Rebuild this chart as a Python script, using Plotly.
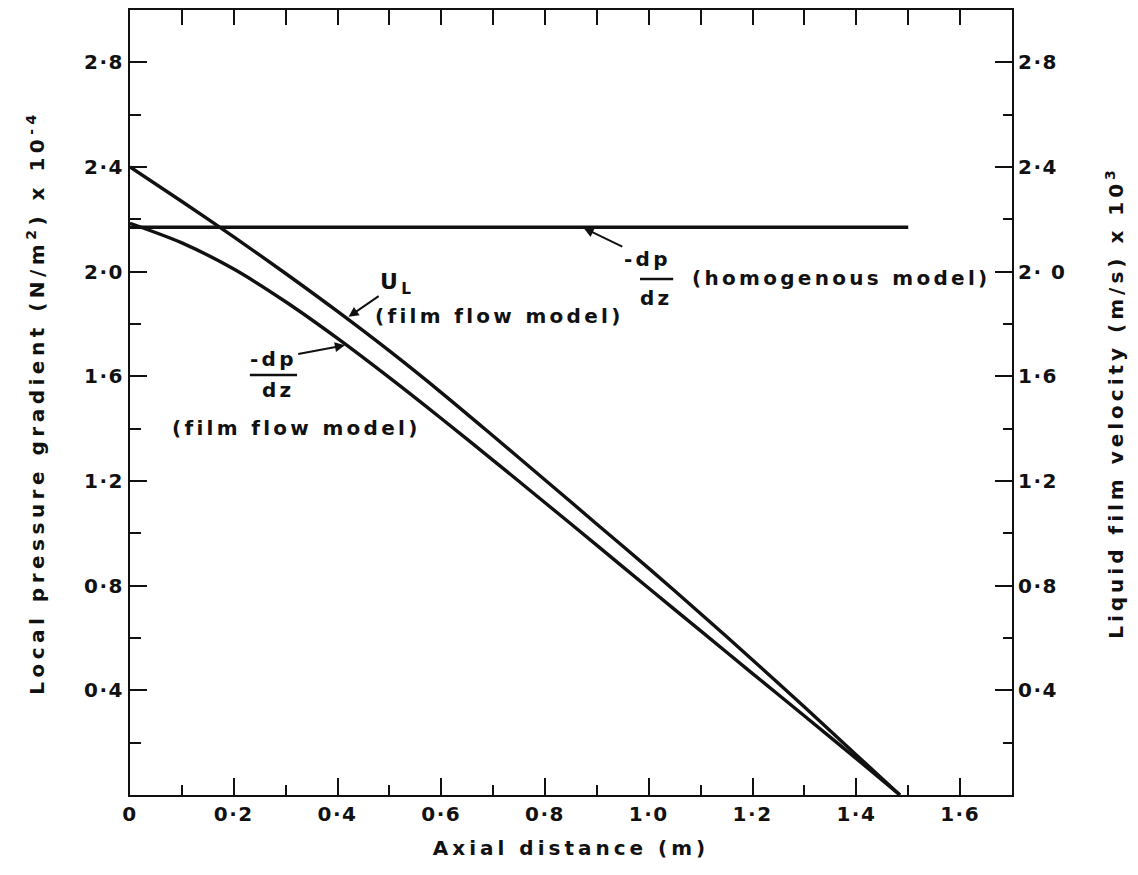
import plotly.graph_objects as go

# Axial distance (m) sampled every 0.1 m
z = [0.0, 0.1, 0.2, 0.3, 0.4, 0.5, 0.6, 0.7, 0.8, 0.9, 1.0, 1.1, 1.2, 1.3, 1.4, 1.484]

# Liquid film velocity U_L (m/s) x 10^3, film flow model
u_l = [2.400, 2.268, 2.133, 1.993, 1.848, 1.697, 1.538, 1.372, 1.204, 1.035, 0.866, 0.693, 0.516, 0.336, 0.153, 0.0]

# Local pressure gradient -dp/dz (N/m^2) x 10^-4, film flow model
dpdz_film = [2.185, 2.110, 2.010, 1.885, 1.745, 1.595, 1.439, 1.279, 1.117, 0.954, 0.790, 0.627, 0.464, 0.302, 0.139, 0.0]

# Local pressure gradient, homogenous model (constant)
z_homo = [0.0, 1.5]
dpdz_homo = [2.17, 2.17]

x_major = [0.0, 0.2, 0.4, 0.6, 0.8, 1.0, 1.2, 1.4, 1.6]
x_major_text = ["0", "0·2", "0·4", "0·6", "0·8", "1·0", "1·2", "1·4", "1·6"]
x_minor = [0.1, 0.3, 0.5, 0.7, 0.9, 1.1, 1.3, 1.5]
x_top = [0.1, 0.2, 0.3, 0.4, 0.5, 0.6, 0.7, 0.8, 0.9, 1.0, 1.1, 1.2, 1.3, 1.4, 1.5, 1.6]

y_major = [0.4, 0.8, 1.2, 1.6, 2.0, 2.4, 2.8]
y_left_text = ["0·4", "0·8", "1·2", "1·6", "2·0", "2·4", "2·8"]
y_right_text = ["0·4", "0·8", "1·2", "1·6", "2· 0", "2·4", "2·8"]
y_minor = [0.2, 0.6, 1.0, 1.4, 1.8, 2.2, 2.6]

FONT = "DejaVu Sans"
INK = "#111111"


def spaced(s, px=3.3):
    return f'<span style="letter-spacing:{px}px">{s}</span>'


fig = go.Figure()
line_style = dict(color=INK, width=3.4)
fig.add_trace(go.Scatter(x=z_homo, y=dpdz_homo, mode="lines", line=line_style,
                         showlegend=False, hoverinfo="skip"))
fig.add_trace(go.Scatter(x=z, y=dpdz_film, mode="lines",
                         line=dict(line_style, shape="spline", smoothing=0.8),
                         showlegend=False, hoverinfo="skip"))
fig.add_trace(go.Scatter(x=z, y=u_l, mode="lines", yaxis="y2",
                         line=dict(line_style, shape="spline", smoothing=0.8),
                         showlegend=False, hoverinfo="skip"))
# carrier for the top axis
fig.add_trace(go.Scatter(x=[None], y=[None], xaxis="x2", showlegend=False, hoverinfo="skip"))

tickfont = dict(family=FONT, size=20, color=INK, weight="bold")
titlefont = dict(family=FONT, size=20, color=INK, weight="bold")

fig.update_layout(
    width=1138, height=875,
    margin=dict(l=130, r=126, t=10, b=80),
    paper_bgcolor="white", plot_bgcolor="white",
    xaxis=dict(
        range=[0, 1.7], showgrid=False, zeroline=False,
        showline=True, linecolor=INK, linewidth=2,
        ticks="inside", ticklen=17, tickwidth=2, tickcolor=INK,
        tickvals=x_major, ticktext=[spaced(t, 1.5) for t in x_major_text], tickfont=tickfont,
        minor=dict(tickvals=x_minor, ticks="inside", ticklen=10, tickwidth=2, tickcolor=INK, showgrid=False),
        title=dict(text=spaced("Axial distance (m)", 4), font=titlefont, standoff=16),
    ),
    xaxis2=dict(
        range=[0, 1.7], overlaying="x", side="top", anchor="y", showgrid=False, zeroline=False,
        showline=True, linecolor=INK, linewidth=2,
        ticks="inside", ticklen=15, tickwidth=2, tickcolor=INK,
        tickvals=x_top, showticklabels=False,
    ),
    yaxis=dict(
        range=[0, 3.0], showgrid=False, zeroline=False,
        showline=True, linecolor=INK, linewidth=2,
        ticks="inside", ticklen=17, tickwidth=2, tickcolor=INK,
        tickvals=y_major, ticktext=[spaced(t, 1.5) for t in y_left_text], tickfont=tickfont,
        minor=dict(tickvals=y_minor, ticks="inside", ticklen=11, tickwidth=2, tickcolor=INK, showgrid=False),
        title=dict(text=spaced("Local pressure gradient (N/m<sup>2</sup>) x 10<sup>-4</sup>", 4.5),
                   font=titlefont, standoff=34),
    ),
    yaxis2=dict(
        range=[0, 3.0], overlaying="y", side="right", anchor="x", showgrid=False, zeroline=False,
        showline=True, linecolor=INK, linewidth=2,
        ticks="inside", ticklen=17, tickwidth=2, tickcolor=INK,
        tickvals=y_major, ticktext=[spaced(t, 1.5) for t in y_right_text], tickfont=tickfont,
        minor=dict(tickvals=y_minor, ticks="inside", ticklen=9, tickwidth=2, tickcolor=INK, showgrid=False),
        title=dict(text=spaced("Liquid film velocity (m/s) x 10<sup>3</sup>", 4),
                   font=titlefont, standoff=44),
    ),
)

lab = dict(family=FONT, size=20, color=INK, weight="bold")


def text(x, y, s, xanchor="center", size=None):
    f = dict(lab) if size is None else dict(lab, size=size)
    fig.add_annotation(x=x, y=y, xref="x", yref="y", text=spaced(s),
                       showarrow=False, font=f, xanchor=xanchor, yanchor="middle")


def pointed_text(s, xh, yh, xt, yt, size=None):
    # label centred at (xt, yt) with a pointer to (xh, yh) on the curve
    f = dict(lab) if size is None else dict(lab, size=size)
    fig.add_annotation(x=xh, y=yh, ax=xt, ay=yt, xref="x", yref="y", axref="x", ayref="y",
                       text=spaced(s), font=f, showarrow=True, arrowhead=2, arrowsize=1.0,
                       arrowwidth=2, arrowcolor=INK, standoff=2)


def bar(x0, x1, y):
    fig.add_shape(type="line", x0=x0, x1=x1, y0=y, y1=y, xref="x", yref="y",
                  line=dict(color=INK, width=2.5))


# U_L label (film flow model)
pointed_text("U<sub>L</sub>", 0.418, 1.823, 0.515, 1.955, size=22)
text(0.468, 1.830, "(film flow model)", xanchor="left")

# -dp/dz label (film flow model)
pointed_text("-dp", 0.418, 1.72, 0.276, 1.668)
bar(0.231, 0.322, 1.605)
text(0.286, 1.548, "dz")
text(0.320, 1.402, "(film flow model)")

# -dp/dz label (homogenous model)
pointed_text("-dp", 0.871, 2.17, 0.997, 2.050)
bar(0.983, 1.047, 1.972)
text(1.014, 1.899, "dz")
text(1.079, 1.977, "(homogenous model)", xanchor="left")

fig.write_html("out.html")
